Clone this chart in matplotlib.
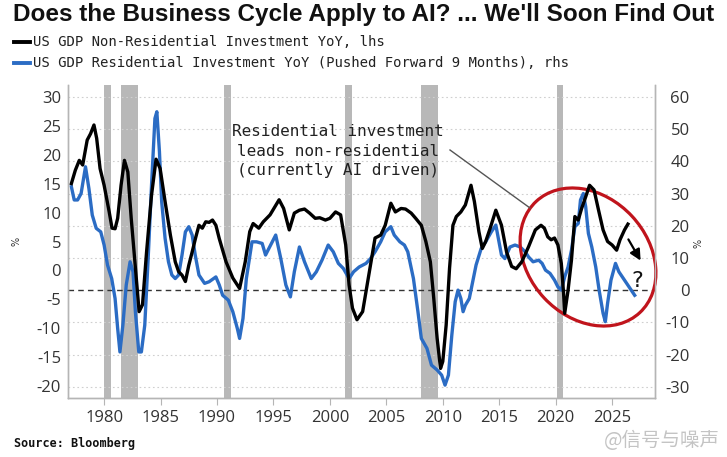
import matplotlib
matplotlib.use("Agg")
import matplotlib.pyplot as plt
from matplotlib.patches import Ellipse, FancyArrowPatch
from matplotlib.lines import Line2D

# black line, lhs (% YoY)
nonres_years = [1977.1, 1977.45, 1977.8, 1978.1, 1978.5, 1978.8, 1979.1, 1979.34, 1979.64, 1980.0,
                1980.45, 1980.7, 1980.97, 1981.2, 1981.5, 1981.8, 1982.1, 1982.4, 1982.77, 1983.1,
                1983.4, 1983.76, 1984.2, 1984.6, 1984.96, 1985.4, 1985.87, 1986.3, 1986.6, 1986.9,
                1987.2, 1987.5, 1987.8, 1988.1, 1988.4, 1988.7, 1989.0, 1989.3, 1989.6, 1989.9,
                1990.2, 1990.8, 1991.4, 1992.0, 1992.5, 1992.9, 1993.2, 1993.7, 1994.1, 1994.7,
                1995.5, 1995.9, 1996.4, 1996.85, 1997.3, 1997.75, 1998.2, 1998.7, 1999.1, 1999.6,
                2000.0, 2000.5, 2000.95, 2001.4, 2001.7, 2002.0, 2002.4, 2002.9, 2003.5, 2004.0,
                2004.5, 2004.9, 2005.4, 2005.8, 2006.3, 2006.7, 2007.2, 2007.6, 2008.1, 2008.5,
                2008.9, 2009.2, 2009.5, 2009.8, 2010.0, 2010.3, 2010.6, 2010.9, 2011.2, 2011.6,
                2012.0, 2012.5, 2012.8, 2013.2, 2013.5, 2013.8, 2014.2, 2014.7, 2015.2, 2015.65,
                2016.1, 2016.5, 2017.0, 2017.6, 2018.2, 2018.7, 2019.0, 2019.3, 2019.6, 2019.9,
                2020.2, 2020.5, 2020.7, 2020.8, 2021.1, 2021.4, 2021.7, 2022.0, 2022.3, 2022.66,
                2023.0, 2023.4, 2023.8, 2024.2, 2024.6, 2025.0, 2025.4, 2025.7, 2026.1, 2026.4]
nonres_yoy = [15.0, 17.3, 19.0, 18.2, 22.5, 23.6, 25.1, 22.8, 17.6, 14.7,
              10.1, 7.3, 7.2, 9.0, 14.7, 19.0, 17.0, 9.0, 0.4, -7.1,
              -5.9, 3.2, 13.0, 19.2, 17.6, 11.9, 6.1, 1.5, -0.2, -0.8,
              -1.9, 0.9, 3.2, 5.6, 7.8, 7.3, 8.4, 8.3, 8.7, 7.8,
              5.5, 1.5, -1.3, -3.1, 1.5, 6.7, 8.1, 7.3, 8.4, 9.6,
              12.2, 10.7, 7.0, 9.9, 10.4, 10.6, 9.9, 9.0, 9.1, 8.7,
              9.0, 10.1, 9.6, 4.4, -2.5, -6.5, -8.5, -7.1, -0.2, 5.6,
              6.1, 7.8, 11.6, 10.1, 10.7, 10.6, 9.9, 9.0, 7.8, 5.0,
              1.5, -4.8, -11.7, -16.9, -15.7, -9.4, 0.4, 7.8, 9.3, 10.1,
              11.3, 14.7, 11.9, 6.7, 3.8, 5.0, 7.3, 10.4, 7.8, 3.2,
              0.7, 0.3, 1.5, 4.1, 7.0, 7.8, 7.3, 5.8, 5.3, 5.6,
              4.4, 1.2, -3.9, -7.4, -3.4, 1.8, 9.3, 8.7, 10.7, 12.7,
              14.7, 13.9, 10.4, 7.0, 5.0, 4.4, 3.5, 5.3, 7.0, 8.0]

# blue line, rhs (% YoY, pushed forward 9 months)
res_years = [1977.1, 1977.35, 1977.65, 1977.96, 1978.35, 1978.65, 1978.95, 1979.3, 1979.7, 1980.0,
             1980.3, 1980.67, 1980.97, 1981.2, 1981.4, 1981.66, 1981.96, 1982.3, 1982.56, 1982.77,
             1983.07, 1983.3, 1983.6, 1983.9, 1984.2, 1984.5, 1984.67, 1984.9, 1985.1, 1985.4,
             1985.7, 1986.0, 1986.3, 1986.6, 1986.9, 1987.2, 1987.5, 1987.8, 1988.07, 1988.4,
             1988.9, 1989.3, 1989.9, 1990.2, 1990.5, 1991.0, 1991.4, 1991.8, 1992.0, 1992.3,
             1992.6, 1993.1, 1993.5, 1994.0, 1994.3, 1994.75, 1995.2, 1995.65, 1996.1, 1996.5,
             1996.85, 1997.3, 1997.75, 1998.35, 1998.8, 1999.3, 1999.85, 2000.3, 2000.75, 2001.2,
             2001.7, 2002.1, 2002.6, 2003.2, 2003.6, 2004.0, 2004.5, 2004.9, 2005.4, 2005.7,
             2006.2, 2006.6, 2006.9, 2007.4, 2007.8, 2008.1, 2008.6, 2009.0, 2009.5, 2009.9,
             2010.2, 2010.5, 2010.8, 2011.1, 2011.35, 2011.6, 2011.8, 2012.0, 2012.35, 2012.65,
             2012.95, 2013.4, 2013.8, 2014.3, 2014.7, 2015.2, 2015.5, 2015.96, 2016.4, 2016.86,
             2017.3, 2017.6, 2018.0, 2018.5, 2018.8, 2019.1, 2019.5, 2019.9, 2020.2, 2020.5,
             2020.8, 2021.1, 2021.4, 2021.7, 2022.0, 2022.2, 2022.45, 2022.66, 2022.9, 2023.2,
             2023.55, 2023.85, 2024.2, 2024.4, 2024.6, 2024.9, 2025.3, 2025.6, 2026.1, 2026.5,
             2027.0]
res_yoy = [32.1, 28.0, 28.0, 30.0, 38.3, 31.6, 23.3, 19.2, 18.1, 14.0,
           7.8, 3.6, -2.6, -11.9, -19.2, -10.9, 1.6, 8.8, 5.7, -6.7,
           -19.2, -19.2, -10.9, 9.8, 32.6, 53.3, 55.4, 43.0, 27.4, 16.1,
           8.8, 4.7, 3.6, 4.7, 10.9, 18.1, 19.7, 17.1, 10.9, 4.7,
           2.1, 2.6, 4.1, 1.6, -1.6, -3.1, -6.7, -11.9, -15.0, -8.8,
           3.6, 15.0, 15.0, 14.5, 10.9, 14.0, 17.1, 9.8, 1.6, -2.1,
           5.7, 13.4, 8.8, 3.6, 5.7, 9.3, 14.0, 11.9, 8.3, 6.7,
           3.6, 5.7, 7.2, 8.3, 9.8, 11.9, 15.0, 18.1, 19.7, 17.1,
           15.0, 14.0, 11.9, 3.6, -6.7, -15.0, -18.1, -23.3, -24.8, -26.4,
           -29.5, -26.4, -14.0, -3.6, 0.0, -2.6, -6.7, -4.7, -2.6, 2.6,
           7.8, 12.9, 15.0, 18.1, 20.2, 10.9, 9.8, 13.4, 14.0, 13.4,
           11.9, 10.3, 8.8, 9.3, 8.3, 6.2, 5.2, 3.1, 1.0, 0.0,
           4.1, 7.2, 12.4, 19.7, 20.7, 28.0, 30.0, 25.9, 17.6, 13.4,
           7.2, 0.0, -7.2, -9.8, -4.1, 3.1, 8.3, 5.7, 3.1, 1.0,
           -1.6]

recessions = [(1980.0, 1980.6), (1981.5, 1983.0), (1990.6, 1991.2),
              (2001.3, 2001.95), (2008.1, 2009.6), (2020.15, 2020.65)]

year_ticks = list(range(1980, 2026, 5))
lhs_ticks = list(range(-20, 31, 5))
rhs_ticks = list(range(-30, 61, 10))

title = "Does the Business Cycle Apply to AI? ... We'll Soon Find Out"
legend_labels = ["US GDP Non-Residential Investment YoY, lhs",
                 "US GDP Residential Investment YoY (Pushed Forward 9 Months), rhs"]
note = "Residential investment\nleads non-residential\n(currently AI driven)"

plt.rcParams['axes.unicode_minus'] = False

W, H = 727, 457
BLUE = '#2b6cc4'
GREY = '#b8b8b8'
TICK = '#333333'
MONO = 'DejaVu Sans Mono'


def fx(x):
    return x / W


def fy(y):
    return 1 - y / H


fig = plt.figure(figsize=(W / 100, H / 100), dpi=100)
ax = fig.add_axes([fx(68), fy(398), (655 - 68) / W, (398 - 85) / H])
ax2 = ax.twinx()
ax.set_zorder(ax2.get_zorder() + 1)
ax.patch.set_visible(False)

# recession shading + grid on the rhs axis (drawn underneath)
for a, b in recessions:
    ax2.axvspan(a, b, color=GREY, lw=0, zorder=0)
for t in rhs_ticks:
    if t != 0:
        ax2.axhline(t, color='#cfcfcf', lw=0.8, ls=(0, (1.5, 2.5)), zorder=0.5)
ax2.axhline(0, color='#333333', lw=1.0, ls=(0, (4, 3)), zorder=1)

ax2.plot(res_years, res_yoy, color=BLUE, lw=2.4, solid_joinstyle='round')
ax.plot(nonres_years, nonres_yoy, color='black', lw=2.4, solid_joinstyle='round')

ax.set_xlim(1976.8, 2028.8)
ax.set_ylim(-22.0, 32.0)
ax2.set_ylim(-33.5, 63.7)

ax.set_xticks(year_ticks)
ax.set_yticks(lhs_ticks)
ax2.set_yticks(rhs_ticks)

for a in (ax, ax2):
    a.spines['top'].set_visible(False)
    for s in ('left', 'right', 'bottom'):
        a.spines[s].set_color('#b5b5b5')
        a.spines[s].set_linewidth(1.0)

ax.tick_params(axis='x', length=5, color='#b5b5b5', pad=4, labelsize=12, labelcolor=TICK)
ax.tick_params(axis='y', length=0, pad=5, labelsize=12, labelcolor=TICK)
ax2.tick_params(axis='y', length=0, pad=25, labelsize=12, labelcolor=TICK)
for lab in ax.get_xticklabels() + ax.get_yticklabels() + ax2.get_yticklabels():
    lab.set_family('Open Sans')
for lab in ax2.get_yticklabels():
    lab.set_ha('right')

fig.text(fx(17), fy(241), '%', rotation=90, ha='center', va='center', fontsize=7, color=TICK)
fig.text(fx(698), fy(243), '%', rotation=90, ha='center', va='center', fontsize=7, color=TICK)

# header
fig.text(fx(13), fy(15), title, ha='left', va='center', fontsize=17.5,
         fontweight='bold', family='Liberation Sans', color='#111111')
for i, (lab, col) in enumerate(zip(legend_labels, ['black', BLUE])):
    y = 42 + 21 * i
    fig.add_artist(Line2D([fx(14), fx(30)], [fy(y), fy(y)], transform=fig.transFigure,
                          color=col, lw=2.8))
    fig.text(fx(33), fy(y), lab, ha='left', va='center', fontsize=10, family=MONO,
             color='#222222')

fig.text(fx(14), fy(444), 'Source: Bloomberg', ha='left', va='center', fontsize=8.5,
         family=MONO, fontweight='bold', color='#111111')
fig.text(fx(720), fy(440), '@信号与噪声', ha='right', va='center', fontsize=14,
         family=['Noto Sans CJK SC', 'DejaVu Sans'], color='#c4c4c4')

# annotation
fig.text(fx(338), fy(151), note, ha='center', va='center', multialignment='center',
         fontsize=11.5, family=MONO, linespacing=1.35, color='#222222')
fig.add_artist(Line2D([fx(450), fx(530)], [fy(150), fy(208)], transform=fig.transFigure,
                      color='#555555', lw=1.0))
fig.add_artist(Ellipse((5.88, (H - 257) / 100), 1.52, 1.20, angle=-47,
                       transform=fig.dpi_scale_trans, fill=False, ec='#c0141c', lw=2.3))
fig.add_artist(FancyArrowPatch((fx(627), fy(237)), (fx(642), fy(263)),
                               transform=fig.transFigure, arrowstyle='-|>',
                               mutation_scale=16, lw=1.6, color='black'))
fig.text(fx(637), fy(281), '?', ha='center', va='center', fontsize=16, family=MONO,
         color='#111111')

fig.savefig('out.png', dpi=100)
